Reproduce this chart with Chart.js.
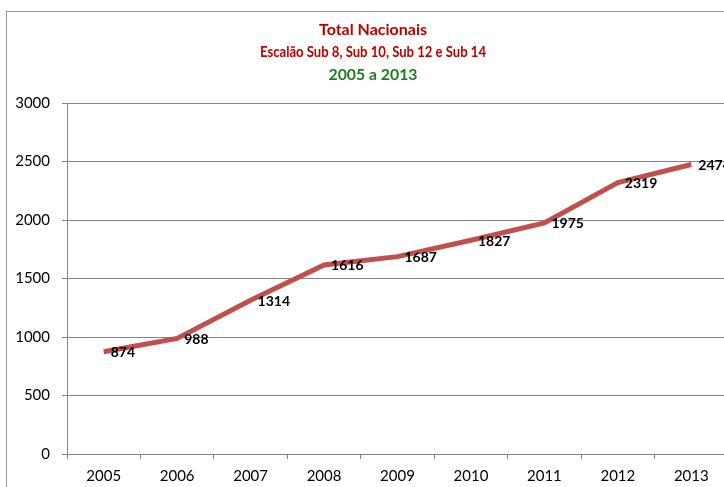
<!DOCTYPE html>
<html><head><meta charset="utf-8">
<script src="https://cdn.jsdelivr.net/npm/chart.js@4.4.1/dist/chart.umd.min.js"></script>
<style>
html,body{margin:0;padding:0;background:#fff;overflow:hidden;width:724px;height:487px;}
#frame{position:absolute;left:6px;top:11px;width:760px;height:520px;border:1px solid #9a9a9a;box-sizing:border-box;}
#wrap{position:absolute;left:0;top:0;width:728px;height:487px;}
</style></head>
<body>
<div id="frame"></div>
<div id="wrap"><canvas id="c" width="728" height="487"></canvas></div>
<script>
const categories = ["2005","2006","2007","2008","2009","2010","2011","2012","2013"];
const totals = [874, 988, 1314, 1616, 1687, 1827, 1975, 2319, 2474];
const titleLines = ["Total Nacionais", "Escalão Sub 8, Sub 10, Sub 12 e Sub 14", "2005 a 2013"];
const titleColors = ["#C00000", "#C00000", "#1E7B1E"];
const yTicks = [0, 500, 1000, 1500, 2000, 2500, 3000];

const FONT = "Lato, 'Open Sans', sans-serif";

// title drawn with a plugin so each line can have its own colour and width
const titleLayout = [
  { y: 30, size: 16, maxW: 114 },
  { y: 52, size: 15.5, maxW: 226 },
  { y: 75, size: 16, maxW: 89 }
];
const titlePlugin = {
  id: 'multiTitle',
  afterDraw(chart) {
    const ctx = chart.ctx;
    ctx.save();
    ctx.textAlign = "center";
    ctx.textBaseline = "middle";
    titleLines.forEach((t, i) => {
      const L = titleLayout[i];
      ctx.font = "bold " + L.size + "px " + FONT;
      ctx.fillStyle = titleColors[i];
      ctx.fillText(t, 373, L.y, L.maxW);
    });
    ctx.restore();
  }
};

const labelPlugin = {
  id: 'valueLabels',
  afterDatasetsDraw(chart) {
    const ctx = chart.ctx;
    const meta = chart.getDatasetMeta(0);
    const data = chart.data.datasets[0].data;
    ctx.save();
    ctx.font = "bold 14px " + FONT;
    ctx.fillStyle = "#000";
    ctx.textAlign = "left";
    ctx.textBaseline = "middle";
    meta.data.forEach((pt, i) => {
      ctx.fillText(String(data[i]), pt.x + 7, pt.y + 1);
    });
    ctx.restore();
  }
};

new Chart(document.getElementById('c'), {
  type: 'line',
  data: {
    labels: categories,
    datasets: [{
      data: totals,
      borderColor: '#C0504D',
      borderWidth: 5,
      pointRadius: 0,
      tension: 0,
      fill: false
    }]
  },
  options: {
    responsive: false,
    animation: false,
    devicePixelRatio: 1,
    layout: { padding: { top: 103, left: 0, right: 0, bottom: 0 } },
    plugins: {
      legend: { display: false },
      tooltip: { enabled: false },
      title: { display: false }
    },
    scales: {
      x: {
        offset: true,
        grid: { offset: true, drawOnChartArea: false, drawTicks: true, tickLength: 5, color: '#868686' },
        border: { display: true, color: '#868686', width: 1 },
        ticks: { color: '#000', font: { family: FONT, size: 15 }, padding: 8, maxRotation: 0, autoSkip: false },
        afterFit(s) { s.height = 33; }
      },
      y: {
        min: 0, max: 3000,
        afterBuildTicks(s) { s.ticks = yTicks.map(v => ({ value: v })); },
        grid: { color: '#868686', drawTicks: true, tickLength: 5 },
        border: { display: true, color: '#868686', width: 1 },
        ticks: { color: '#000', font: { family: FONT, size: 15 }, padding: 12, callback: (v) => String(v) },
        afterFit(s) { s.width = 67; }
      }
    }
  },
  plugins: [labelPlugin, titlePlugin]
});
</script>
</body></html>
